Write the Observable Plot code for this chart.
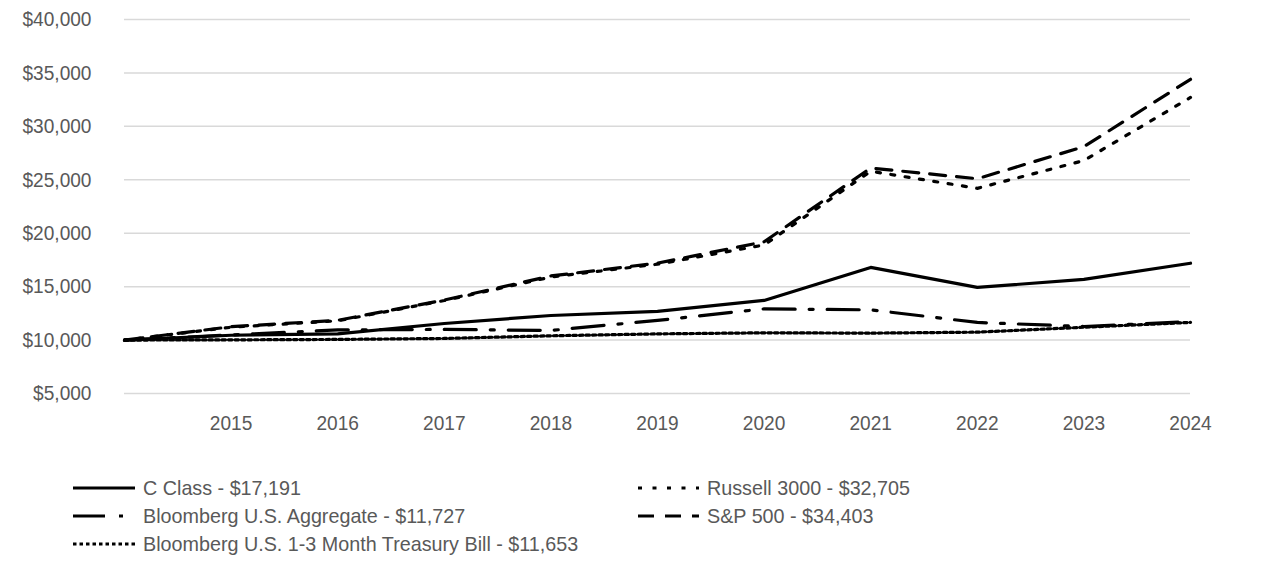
<!DOCTYPE html>
<html>
<head>
<meta charset="utf-8">
<script src="https://cdn.jsdelivr.net/npm/d3@7"></script>
<script src="https://cdn.jsdelivr.net/npm/@observablehq/plot@0.6"></script>
<style>
  html, body { margin: 0; padding: 0; background: #fff; }
  body { width: 1286px; height: 576px; overflow: hidden; font-family: "Liberation Sans", Arial, sans-serif; }
  #chart svg { display: block; }
  #legend { position: relative; height: 136px; }
  .item { position: absolute; display: flex; align-items: center; height: 28px; color: #595959; font-size: 21px; white-space: nowrap; }
  .item svg { display: block; margin-right: 8px; }
  .item span { display: inline-block; transform: scaleX(0.94); transform-origin: left center; }
</style>
</head>
<body>
<div id="chart"></div>
<div id="legend"></div>
<script>
const years = [2014, 2015, 2016, 2017, 2018, 2019, 2020, 2021, 2022, 2023, 2024];
const tickYears = [2015, 2016, 2017, 2018, 2019, 2020, 2021, 2022, 2023, 2024];
const yTicks = [5000, 10000, 15000, 20000, 25000, 30000, 35000, 40000];

const cClass    = [10000, 10450, 10580, 11550, 12300, 12680, 13710, 16800, 14930, 15680, 17191];
const aggregate = [10000, 10480, 10950, 11000, 10900, 11840, 12920, 12830, 11650, 11270, 11727];
const tbill     = [10000, 10020, 10060, 10150, 10400, 10580, 10680, 10650, 10740, 11200, 11653];
const russell   = [10000, 11200, 11800, 13700, 15900, 17100, 18900, 25800, 24200, 26800, 32705];
const sp500     = [10000, 11250, 11850, 13750, 16000, 17200, 19200, 26100, 25100, 28100, 34403];

const seriesNames = [
  "C Class - $17,191",
  "Bloomberg U.S. Aggregate - $11,727",
  "Bloomberg U.S. 1-3 Month Treasury Bill - $11,653",
  "Russell 3000 - $32,705",
  "S&P 500 - $34,403"
];
const seriesValues = [cClass, aggregate, tbill, russell, sp500];

// styles (kept apart from data)
const dashes = ["none", "32,14,4,14", "3.5,3", "4,10.5", "16,11"];

const font = '"Liberation Sans", Arial, sans-serif';

const tables = seriesValues.map((vals, i) => years.map((year, j) => ({year, value: vals[j], series: seriesNames[i]})));

const lineMarks = tables.map((t, i) => Plot.lineY(t, {
  x: "year", y: "value",
  stroke: "#000", strokeWidth: 3.2,
  strokeDasharray: dashes[i] === "none" ? undefined : dashes[i],
  strokeLinejoin: "round"
}));

const chart = Plot.plot({
  width: 1286,
  height: 440,
  marginTop: 19,
  marginBottom: 47,
  marginLeft: 124,
  marginRight: 96,
  style: { fontFamily: font, fontSize: "21px", color: "#595959", background: "#fff" },
  x: { domain: [2014, 2024] },
  y: { domain: [5000, 40000] },
  marks: [
    Plot.gridY(yTicks, { stroke: "#d9d9d9", strokeOpacity: 1, strokeWidth: 1.5 }),
    Plot.axisY(yTicks, { tickSize: 0, tickPadding: 33, label: null, tickFormat: d => "$" + d3.format(",")(d), fill: "#595959" }),
    Plot.axisX(tickYears, { tickSize: 0, tickPadding: 22, label: null, tickFormat: d => String(d), fill: "#595959" }),
    ...lineMarks
  ]
});
// narrow the axis lettering around each label's anchor point
chart.querySelectorAll("text").forEach(t => {
  const ax = parseFloat(t.getAttribute("x")) || 0;
  const tr = t.getAttribute("transform") || "";
  t.setAttribute("transform", `${tr} translate(${ax},0) scale(0.91,1) translate(${-ax},0)`);
});
document.getElementById("chart").appendChild(chart);

// legend
const legendPos = [
  {left: 73, top: 34},
  {left: 73, top: 62},
  {left: 73, top: 90},
  {left: 638, top: 34},
  {left: 638, top: 62}
];
const legend = document.getElementById("legend");
seriesNames.forEach((name, i) => {
  const item = document.createElement("div");
  item.className = "item";
  item.style.left = legendPos[i].left + "px";
  item.style.top = legendPos[i].top + "px";
  const w = i < 3 ? 62 : 61;
  const svg = d3.create("svg").attr("width", w).attr("height", 10);
  svg.append("line").attr("x1", 0).attr("x2", w).attr("y1", 5).attr("y2", 5)
    .attr("stroke", "#000").attr("stroke-width", 3.2)
    .attr("stroke-dasharray", dashes[i] === "none" ? null : dashes[i]);
  item.appendChild(svg.node());
  const span = document.createElement("span");
  span.textContent = name;
  item.appendChild(span);
  legend.appendChild(item);
});
</script>
</body>
</html>
